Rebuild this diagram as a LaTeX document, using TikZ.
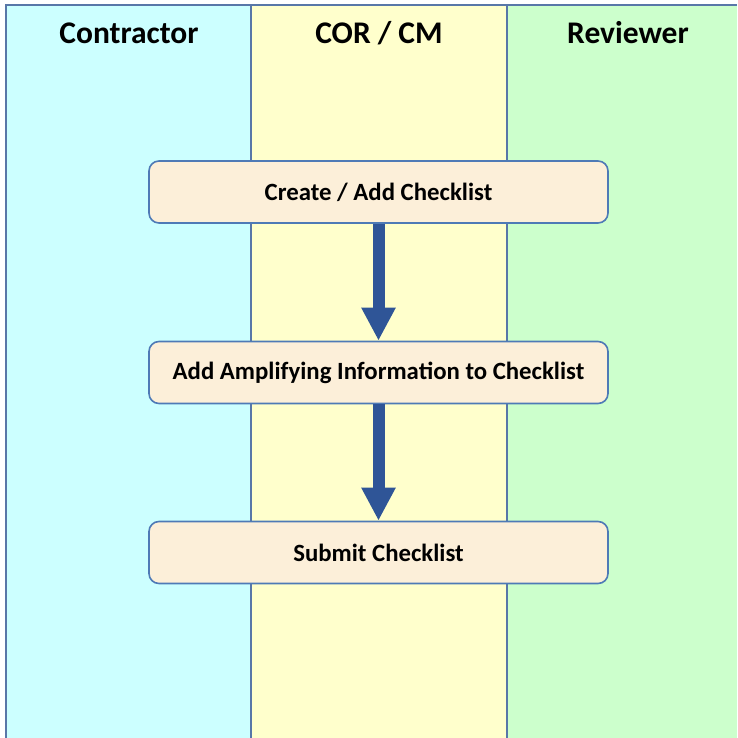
\documentclass[tikz,border=0pt]{standalone}
\usepackage{fontspec}
\setmainfont{Carlito}
\usetikzlibrary{arrows.meta}
\definecolor{laneA}{HTML}{CCFFFF}
\definecolor{laneB}{HTML}{FFFFCC}
\definecolor{laneC}{HTML}{CCFFCC}
\definecolor{laneline}{HTML}{5877A8}
\definecolor{boxfill}{HTML}{FCEFD9}
\definecolor{boxline}{HTML}{4E7AB6}
\definecolor{arrowblue}{HTML}{2F5597}
\tikzset{
  header/.style={font=\fontsize{31.5}{36}\selectfont\bfseries, anchor=center},
  stepbox/.style={draw=boxline, line width=1.6pt, fill=boxfill, rounded corners=10pt,
    minimum width=459pt, minimum height=62pt, font=\fontsize{24.8}{29}\selectfont\bfseries, inner sep=0pt},
  flow/.style={draw=arrowblue, line width=12pt, -{Triangle[width=32pt,length=33pt]}, fill=arrowblue}
}
\begin{document}
\begin{tikzpicture}[x=1pt,y=-1pt]
\useasboundingbox (0,0) rectangle (737,738);
\fill[laneA] (6,5) rectangle (251,738);
\fill[laneB] (251,5) rectangle (507,738);
\fill[laneC] (507,5) rectangle (737,738);
\draw[laneline, line width=2pt] (6,738) -- (6,5) -- (737,5);
\draw[laneline, line width=2pt] (251,5) -- (251,738);
\draw[laneline, line width=2pt] (507,5) -- (507,738);
\node[header] (h1) at (129,33) {Contractor};
\node[header] (h2) at (379,33) {COR / CM};
\node[header] (h3) at (628,33) {Reviewer};
\node[stepbox] (b1) at (378.5,192) {\raisebox{-1.5pt}{Create / Add Checklist}};
\node[stepbox] (b2) at (378.5,372.5) {\raisebox{-1.5pt}{Add Amplifying Information to Checklist}};
\node[stepbox] (b3) at (378.5,552.5) {\raisebox{-1.5pt}{Submit Checklist}};
\draw[flow] (b1.south) -- (b2.north);
\draw[flow] (b2.south) -- (b3.north);
\end{tikzpicture}
\end{document}
